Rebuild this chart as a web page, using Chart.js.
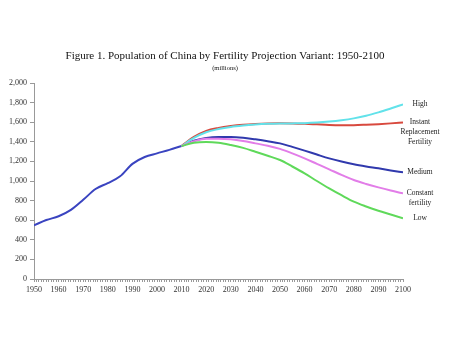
<!DOCTYPE html>
<html>
<head>
<meta charset="utf-8">
<script src="https://cdn.jsdelivr.net/npm/chart.js@4/dist/chart.umd.min.js"></script>
<style>
  html, body { margin: 0; padding: 0; background: #fff; }
  #wrap { width: 450px; height: 337px; position: relative; }
</style>
</head>
<body>
<div id="wrap"><canvas id="grafico"></canvas></div>
<script>
// historical estimates, millions
const anosHist = [1950, 1955, 1960, 1965, 1970, 1975, 1980, 1985, 1990, 1995, 2000, 2005, 2010];
const popHist = [548, 602, 640, 705, 808, 918, 978, 1048, 1175, 1245, 1282, 1318, 1357];

// projection variants, 2010-2100
const anosProj = [2010, 2015, 2020, 2025, 2030, 2035, 2040, 2045, 2050, 2055, 2060, 2065, 2070, 2075, 2080, 2085, 2090, 2095, 2100];
const alta = [1357, 1440, 1498, 1530, 1552, 1566, 1576, 1583, 1587, 1588, 1590, 1596, 1606, 1620, 1639, 1665, 1700, 1740, 1782];
const reposicao = [1357, 1450, 1512, 1542, 1561, 1574, 1582, 1587, 1589, 1588, 1584, 1578, 1572, 1570, 1570, 1574, 1580, 1588, 1597];
const media = [1357, 1410, 1440, 1450, 1450, 1442, 1425, 1406, 1384, 1348, 1310, 1270, 1231, 1198, 1170, 1148, 1129, 1108, 1088];
const constante = [1357, 1405, 1432, 1432, 1425, 1408, 1384, 1360, 1328, 1282, 1231, 1175, 1119, 1062, 1010, 970, 935, 903, 874];
const baixa = [1357, 1390, 1398, 1390, 1367, 1338, 1299, 1258, 1214, 1148, 1078, 1000, 925, 855, 789, 740, 697, 658, 619];

const rotulos = {
  alta: ["High"],
  reposicao: ["Instant", "Replacement", "Fertility"],
  media: ["Medium"],
  constante: ["Constant", "fertility"],
  baixa: ["Low"]
};

const titulo = "Figure 1. Population of China by Fertility Projection Variant: 1950-2100";
const subtitulo = "(millions)";

const serif = '"Liberation Serif", "Times New Roman", serif';

function pontos(anos, valores) {
  return anos.map((a, i) => ({ x: a, y: valores[i] }));
}

function serie(chave, anos, valores, cor) {
  return {
    chave: chave,
    data: pontos(anos, valores),
    borderColor: cor,
    borderWidth: 2,
    pointRadius: 0,
    fill: false,
    cubicInterpolationMode: "monotone"
  };
}

// title block and the labels at the right end of each variant
const textos = {
  id: "textos",
  afterDraw(chart) {
    const ctx = chart.ctx;
    const y = chart.scales.y;
    ctx.save();
    ctx.fillStyle = "#111";
    ctx.textAlign = "center";
    ctx.textBaseline = "middle";
    ctx.font = "11px " + serif;
    ctx.fillText(titulo, 225, 56);
    ctx.font = "6.5px " + serif;
    ctx.fillText(subtitulo, 225, 68);

    ctx.font = "7.5px " + serif;
    ctx.fillStyle = "#222";
    chart.data.datasets.forEach((ds) => {
      const linhas = rotulos[ds.chave];
      if (!linhas) return;
      const ultimo = ds.data[ds.data.length - 1].y;
      const py = y.getPixelForValue(ultimo);
      linhas.forEach((t, i) => ctx.fillText(t, 420, py + i * 10));
    });
    ctx.restore();
  }
};

const ctx = document.getElementById("grafico").getContext("2d");

new Chart(ctx, {
  type: "line",
  data: {
    datasets: [
      serie("baixa", anosProj, baixa, "#5fd95a"),
      serie("constante", anosProj, constante, "#e27de8"),
      serie("alta", anosProj, alta, "#62e2ea"),
      serie("reposicao", anosProj, reposicao, "#d8493e"),
      serie("media", anosProj, media, "#3039ad"),
      serie("historico", anosHist, popHist, "#3a44c0")
    ]
  },
  options: {
    responsive: true,
    maintainAspectRatio: false,
    animation: false,
    layout: {
      padding: { top: 83, right: 47, bottom: 38, left: 0 }
    },
    plugins: {
      legend: { display: false },
      tooltip: { enabled: false }
    },
    scales: {
      x: {
        type: "linear",
        min: 1950,
        max: 2100,
        afterFit: (s) => { s.height = 20; },
        border: { color: "#999", width: 1 },
        grid: { drawOnChartArea: false, drawTicks: true, tickLength: 3, color: "#999" },
        ticks: {
          stepSize: 1,
          autoSkip: false,
          maxRotation: 0,
          padding: 3,
          color: "#333",
          font: { family: serif, size: 8 },
          callback: (v) => (v % 10 === 0 ? String(v) : "")
        }
      },
      y: {
        min: 0,
        max: 2000,
        afterFit: (s) => { s.width = 34; },
        border: { color: "#999", width: 1 },
        grid: { drawOnChartArea: false, drawTicks: true, tickLength: 4, color: "#999" },
        ticks: {
          stepSize: 200,
          padding: 3,
          color: "#333",
          font: { family: serif, size: 8 },
          callback: (v) => v.toLocaleString("en-US")
        }
      }
    }
  },
  plugins: [textos]
});
</script>
</body>
</html>
